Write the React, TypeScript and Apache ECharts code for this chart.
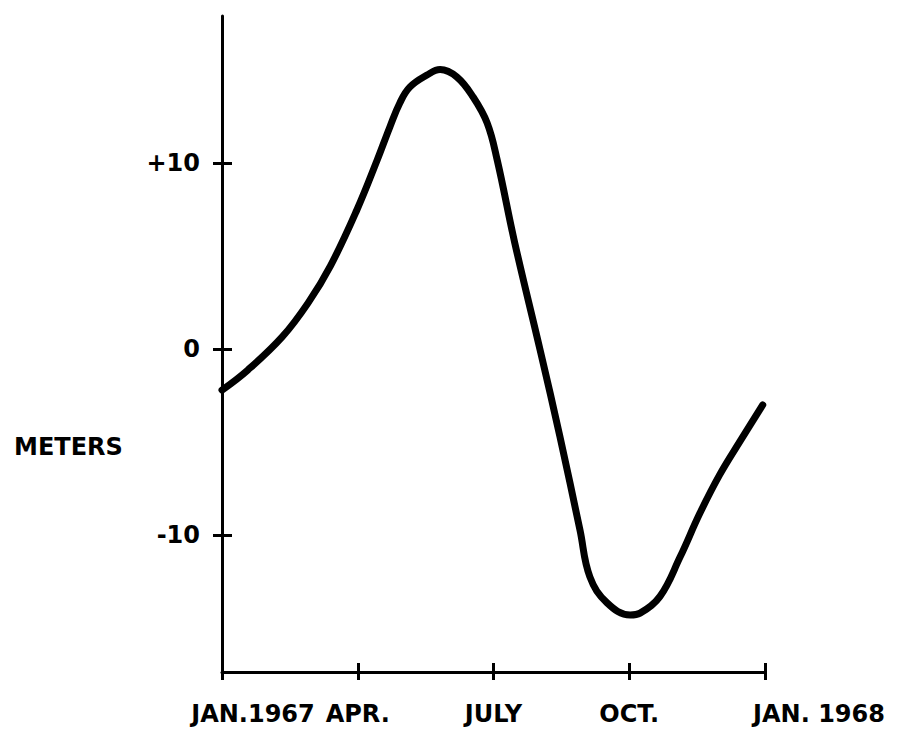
import React, { useEffect, useRef } from 'react';
import * as echarts from 'echarts';

// Months since Jan 1967 and displacement in meters
const months = [0, 0.57, 1.33, 1.9, 2.4, 2.98, 3.43, 3.71, 3.93, 4.15, 4.53, 4.82, 5.19, 5.55, 5.86, 6.08, 6.47, 7.03, 7.47, 7.91, 8.13, 8.51, 9.02, 9.24, 9.68, 10.12, 10.56, 11.0, 11.45, 11.95];
const meters = [-2.2, -1.12, 0.66, 2.48, 4.5, 7.49, 10.18, 11.96, 13.25, 14.1, 14.75, 15.05, 14.65, 13.57, 12.17, 10.2, 5.72, -0.04, -4.72, -9.72, -12.25, -13.65, -14.3, -14.2, -13.3, -11.2, -8.83, -6.75, -4.95, -3.0];

const xTickValues = [0, 3, 6, 9, 12];
const xTickLabels = ['JAN.1967', 'APR.', 'JULY', 'OCT.', 'JAN. 1968'];
const yTickValues = [-10, 0, 10];
const yTickLabels = ['-10', '0', '+10'];
const yAxisTitle = 'METERS';

const FONT = '"DejaVu Sans", sans-serif';

export default function App() {
  const ref = useRef<HTMLDivElement>(null);
  useEffect(() => {
    if (!ref.current) return;
    const chart = echarts.init(ref.current, undefined, { renderer: 'svg' });
    const labelStyle = { fontFamily: FONT, fontSize: 24, fontWeight: 'bold' as const, color: '#000' };
    const gapNames = ['g1', '', '', '', 'g2'];
    chart.setOption({
      animation: false,
      backgroundColor: '#fff',
      grid: { left: 222, right: 135, top: 16, bottom: 60, containLabel: false },
      xAxis: [
        {
          type: 'value', min: 0, max: 12, position: 'bottom',
          axisLine: { show: true, onZero: false, lineStyle: { color: '#000', width: 3 } },
          axisTick: { show: true, customValues: xTickValues, length: 8, lineStyle: { color: '#000', width: 3 } },
          axisLabel: {
            customValues: xTickValues,
            margin: 30,
            formatter: (v: number) => {
              const i = xTickValues.indexOf(v);
              const g = gapNames[i];
              return (g ? `{${g}| }` : '') + `{t|${xTickLabels[i]}}`;
            },
            rich: {
              t: labelStyle,
              g1: { width: 62, fontSize: 24 },
              g2: { width: 108, fontSize: 24 },
            },
          },
          splitLine: { show: false },
        },
        {
          type: 'value', min: 0, max: 12, position: 'bottom',
          axisLine: { show: false, onZero: false },
          axisTick: { show: true, inside: true, customValues: xTickValues, length: 9, lineStyle: { color: '#000', width: 3 } },
          axisLabel: { show: false },
          splitLine: { show: false },
        },
      ],
      yAxis: [
        {
          type: 'value', min: -17.37, max: 17.93, position: 'left',
          axisLine: { show: true, onZero: false, lineStyle: { color: '#000', width: 3 } },
          axisTick: { show: true, customValues: yTickValues, length: 9, lineStyle: { color: '#000', width: 3 } },
          axisLabel: {
            customValues: yTickValues,
            margin: 22,
            formatter: (v: number) => yTickLabels[yTickValues.indexOf(v)],
            ...labelStyle,
          },
          splitLine: { show: false },
        },
        {
          type: 'value', min: -17.37, max: 17.93, position: 'left',
          axisLine: { show: false, onZero: false },
          axisTick: { show: true, inside: true, customValues: yTickValues, length: 10, lineStyle: { color: '#000', width: 3 } },
          axisLabel: { show: false },
          splitLine: { show: false },
        },
      ],
      graphic: [
        {
          type: 'text', left: 14, top: 435,
          style: { text: yAxisTitle, font: `bold 24px ${FONT}`, fill: '#000' },
        },
      ],
      series: [
        {
          type: 'line',
          xAxisIndex: 0, yAxisIndex: 0,
          data: months.map((m, i) => [m, meters[i]]),
          smooth: 0.4,
          showSymbol: false,
          lineStyle: { color: '#000', width: 7, cap: 'round', join: 'round' },
        },
      ],
    });
    return () => chart.dispose();
  }, []);
  return <div ref={ref} style={{ position: 'absolute', left: 0, top: 0, width: 900, height: 732 }} />;
}
